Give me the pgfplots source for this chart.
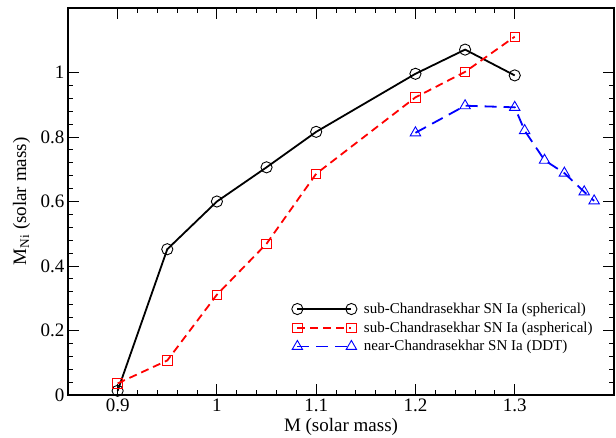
\documentclass[border=0pt]{standalone}
\usepackage{fontspec}
\setmainfont{Liberation Serif}
\usepackage{pgfplots}
\pgfplotsset{compat=1.18}

\begin{document}
\begin{tikzpicture}
\useasboundingbox (-68pt,-42pt) rectangle (548pt,395pt);
\begin{axis}[
  scale only axis,
  width=546pt, height=387pt,
  xmin=0.85, xmax=1.4,
  ymin=0, ymax=1.2,
  xtick={0.9,1,1.1,1.2,1.3},
  ytick={0,0.2,0.4,0.6,0.8,1},
  minor x tick num=4,
  minor y tick num=4,
  tick align=inside,
  major tick length=11pt,
  minor tick length=5.5pt,
  every tick/.style={black, line width=0.9pt},
  axis line style={line width=1.3pt},
  /pgf/number format/assume math mode=true,
  tick label style={font=\fontsize{19}{22}\selectfont},
  label style={font=\fontsize{19}{22}\selectfont},
  xlabel={M (solar mass)},
  ylabel={M\textsubscript{Ni} (solar mass)},
  xlabel style={at={(axis description cs:0.5,-0.083)}, anchor=center},
  ylabel style={at={(axis description cs:-0.085,0.5)}, anchor=center},
  legend style={draw=none, fill=none, at={(axis description cs:0.4095,0.252)}, anchor=north west,
    font=\fontsize{15}{18}\selectfont, inner xsep=0pt,
    nodes={inner ysep=3.4pt}},
  legend cell align=left,
  legend image code/.code={%
    \draw[#1] (0pt,0pt) -- (54pt,0pt);
    \path[#1, mark repeat=1] plot coordinates {(0pt,0pt) (54pt,0pt)};},
]
\addplot[black, line width=1.8pt, mark=o, mark size=5.6pt, mark options={solid, line width=0.9pt}]
  coordinates {(0.9,0.013) (0.95,0.452) (1.0,0.600) (1.05,0.706) (1.1,0.816) (1.2,0.996) (1.25,1.071) (1.3,0.991)};
\addlegendentry{\hspace*{5pt}sub-Chandrasekhar SN Ia (spherical)}
\addplot[red, line width=1.8pt, dash pattern=on 8pt off 5pt, mark=square, mark size=4.7pt, mark options={solid, line width=0.9pt}]
  coordinates {(0.9,0.036) (0.95,0.107) (1.0,0.311) (1.05,0.469) (1.1,0.686) (1.2,0.923) (1.25,1.002) (1.3,1.111)};
\addlegendentry{\hspace*{5pt}sub-Chandrasekhar SN Ia (aspherical)}
\addplot[blue, line width=1.8pt, dash pattern=on 12pt off 7pt, mark=triangle, mark size=6pt, mark options={solid, line width=0.9pt}]
  coordinates {(1.2,0.813) (1.25,0.897) (1.3,0.892) (1.31,0.820) (1.33,0.728) (1.35,0.688) (1.37,0.630) (1.38,0.602)};
\addlegendentry{\hspace*{5pt}near-Chandrasekhar SN Ia (DDT)}
\end{axis}
\end{tikzpicture}
\end{document}
